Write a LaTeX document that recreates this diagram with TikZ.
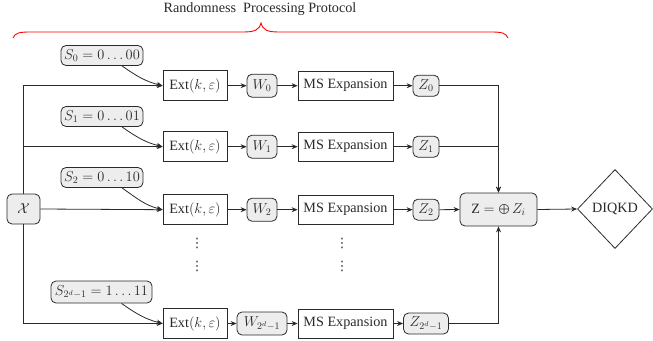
\documentclass[tikz,border=0pt]{standalone}
\usepackage{fontspec}
\setmainfont{Liberation Serif}
\newfontfamily\dejavu{DejaVu Sans}
\usetikzlibrary{shapes.geometric,arrows.meta,calc}
\definecolor{ln}{HTML}{2A2A2A}
\definecolor{lf}{HTML}{EDEDED}
\tikzset{
  box/.style={draw=ln, line width=0.8pt, minimum height=30pt, inner sep=2pt, fill=white, text=ln},
  rbox/.style={draw=ln, line width=0.8pt, rounded corners=5pt, fill=lf, inner sep=2pt, text=ln},
  extbox/.style={box, minimum width=64pt},
  msbox/.style={box, minimum width=95pt, minimum height=29pt},
  wbox/.style={rbox, minimum width=30pt, minimum height=23pt},
  zbox/.style={rbox, minimum width=26pt, minimum height=21pt},
  sbox/.style={rbox, minimum width=82pt, minimum height=20pt},
  arr/.style={-{Stealth[length=6pt,width=5pt]}, line width=0.8pt, draw=ln},
  vd/.style={inner sep=0pt, text=ln, font=\dejavu\fontsize{13}{13}\selectfont},
}
\begin{document}
\begin{tikzpicture}[x=1pt,y=-1pt,font=\fontsize{14.2}{16}\selectfont]
\useasboundingbox (0,0) rectangle (653,340);

% title and brace
\node[text=ln] (title) at (260,9) {Randomness~~Processing Protocol};
\draw[red, line width=0.9pt] (13,38) .. controls (15,33) and (19,32) .. (30,32) -- (243,32)
  .. controls (255,32) and (259,30) .. (261,23) .. controls (263,30) and (267,32) .. (279,32)
  -- (491,32) .. controls (502,32) and (506,33) .. (508,38);

% source
\node[rbox, minimum width=33pt, minimum height=30pt] (X) at (23.5,209) {$\mathcal{X}$};

% rows
\node[extbox] (E0) at (195,85.7) {Ext$(k,\varepsilon)$};
\node[extbox] (E1) at (195,146.7) {Ext$(k,\varepsilon)$};
\node[extbox] (E2) at (195,209.7) {Ext$(k,\varepsilon)$};
\node[extbox] (E3) at (195,323.5) {Ext$(k,\varepsilon)$};

\node[wbox] (W0) at (262,85.7) {$W_0$};
\node[wbox] (W1) at (262,146.7) {$W_1$};
\node[wbox] (W2) at (262,209.7) {$W_2$};
\node[wbox, minimum width=50pt] (W3) at (262,323.5) {$W_{2^d-1}$};

\node[msbox] (M0) at (345.5,85.7) {MS Expansion};
\node[msbox] (M1) at (345.5,146.7) {MS Expansion};
\node[msbox] (M2) at (345.5,209.7) {MS Expansion};
\node[msbox] (M3) at (345.5,323.5) {MS Expansion};

\node[zbox] (Z0) at (426,85.7) {$Z_0$};
\node[zbox] (Z1) at (426,146.7) {$Z_1$};
\node[zbox] (Z2) at (426,209.7) {$Z_2$};
\node[zbox, minimum width=45pt] (Z3) at (426,323.5) {$Z_{2^d-1}$};

\node[sbox] (S0) at (102,55.5) {$S_0=0\dots00$};
\node[sbox] (S1) at (102,116.5) {$S_1=0\dots01$};
\node[sbox] (S2) at (102,177.5) {$S_2=0\dots10$};
\node[sbox, minimum width=101pt, minimum height=22pt] (S3) at (101.5,292) {$S_{2^d-1}=1\dots11$};

% dots
\node[vd] (d1) at (197,243) {⋮};
\node[vd] (d2) at (197,266) {⋮};
\node[vd] (d3) at (342,243) {⋮};
\node[vd] (d4) at (342,266) {⋮};

% combiner and output
\node[rbox, minimum width=77pt, minimum height=33pt] (ZS) at (498.5,209.5) {Z $=\bigoplus Z_i$};
\node[draw=ln, line width=0.8pt, shape=diamond, minimum width=75pt, minimum height=79pt, inner sep=0pt, text=ln] (D) at (615,209) {DIQKD};

% connectors from X
\draw[arr] (X.north) |- (E0.west);
\draw[arr] (X.north) |- (E1.west);
\draw[arr] (X.east) -- (E2.west);
\draw[arr] (X.south) |- (E3.west);

% seeds
\draw[arr] ([xshift=20pt]S0.south) to[out=-35, in=166] (E0.west);
\draw[arr] ([xshift=20pt]S1.south) to[out=-35, in=166] (E1.west);
\draw[arr] ([xshift=20pt]S2.south) to[out=-35, in=166] (E2.west);
\draw[arr] ([xshift=20pt]S3.south) to[out=-35, in=166] (E3.west);

% chains
\foreach \i in {0,1,2,3}{
  \draw[arr] (E\i.east) -- (W\i.west);
  \draw[arr] (W\i.east) -- (M\i.west);
  \draw[arr] (M\i.east) -- (Z\i.west);
}

% into combiner
\draw[arr] (Z0.east) -| (ZS.north);
\draw[arr] (Z1.east) -| (ZS.north);
\draw[arr] (Z2.east) -- (ZS.west);
\draw[arr] (Z3.east) -| (ZS.south);
\draw[arr] (ZS.east) -- (D.west);
\end{tikzpicture}
\end{document}
